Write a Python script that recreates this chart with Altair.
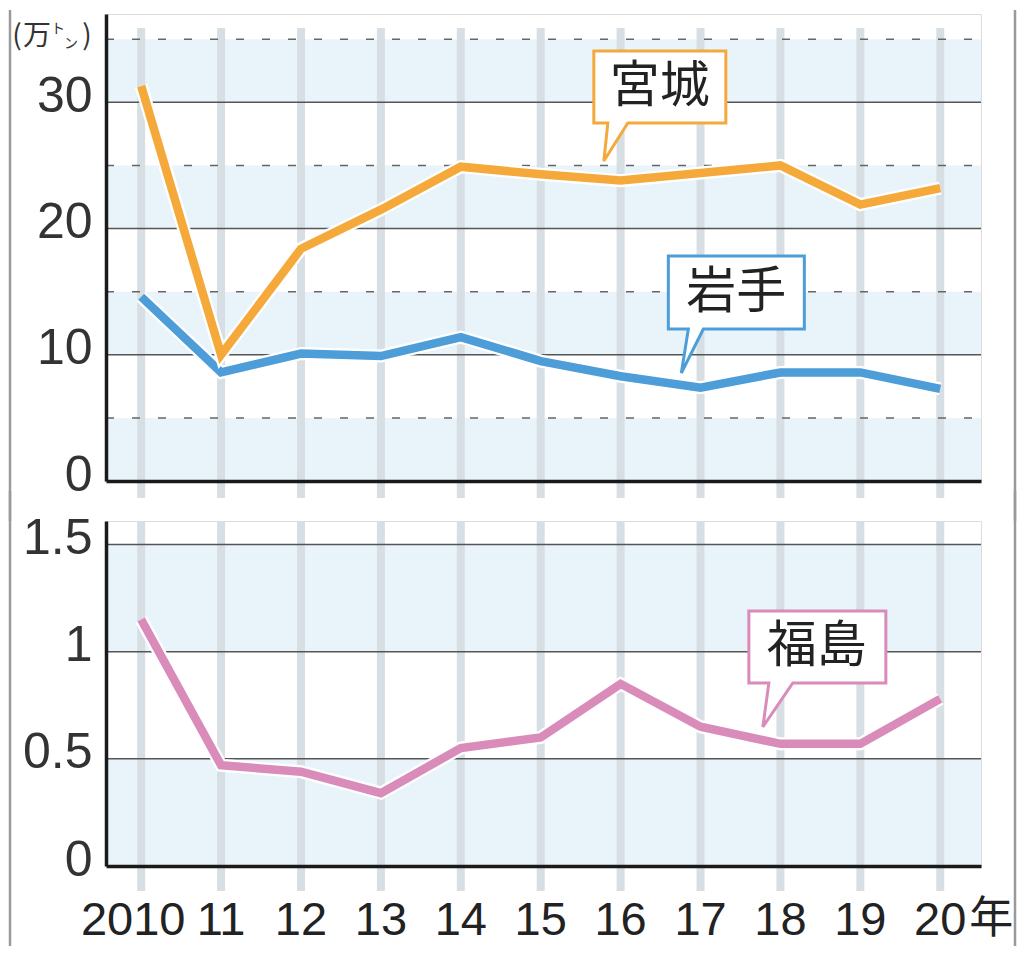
import altair as alt
import pandas as pd

# ---------------- data ----------------
years = [2010, 2011, 2012, 2013, 2014, 2015, 2016, 2017, 2018, 2019, 2020]
year_labels = ["2010", "11", "12", "13", "14", "15", "16", "17", "18", "19", "20"]
miyagi = [31.3, 10.0, 18.4, 21.5, 24.9, 24.3, 23.8, 24.4, 25.0, 21.9, 23.2]
iwate = [14.6, 8.6, 10.1, 9.9, 11.4, 9.5, 8.3, 7.4, 8.6, 8.6, 7.3]
fukushima = [1.15, 0.47, 0.44, 0.34, 0.55, 0.60, 0.85, 0.65, 0.57, 0.57, 0.78]

top_ticks = [0, 10, 20, 30]
top_solid_grid = [10, 20, 30]
top_dashed_grid = [5, 15, 25, 35]
top_band_lo = [0, 10, 20, 30]
top_band_hi = [5, 15, 25, 35]

bottom_ticks = [0, 0.5, 1, 1.5]
bottom_solid_grid = [0.5, 1, 1.5]
bottom_band_lo = [0, 1]
bottom_band_hi = [0.5, 1.5]

# ---------------- style ----------------
W, H1, H2 = 875, 467, 345
XDOM = [2009.56, 2020.51]
ORANGE, BLUE, PINK = "#F4A93A", "#4C9DD8", "#D98BBA"
BAND = "#E9F4FA"
BARC = "#D7DFE4"
CJK = "Noto Sans CJK JP"
LAT = "Liberation Sans"

x_scale = alt.Scale(domain=XDOM, nice=False, zero=False)
x_axis = alt.Axis(labels=False, ticks=False, grid=False, domainColor="#1a1a1a",
                  domainWidth=3.5, title=None, zindex=1, values=years)


def y_axis(vals):
    return alt.Axis(values=vals, ticks=False, grid=False, domainColor="#1a1a1a",
                    domainWidth=3.5, title=None, zindex=1, labelFont=LAT,
                    labelFontSize=50, labelColor="#333333", labelPadding=14,
                    labelOffset=-6, labelExpr="'' + datum.value")


one = pd.DataFrame({"k": [0]})


def pix_text(txt, x, y, size, font=CJK, color="#333333"):
    return alt.Chart(one).mark_text(text=txt, font=font, fontSize=size, color=color,
                                    align="center", baseline="middle").encode(
        x=alt.value(x), y=alt.value(y))


def border(y0, y1):
    left = alt.Chart(one).mark_rule(color="#9a9a9a", strokeWidth=2.5).encode(
        x=alt.value(-96), y=alt.value(y0), y2=alt.value(y1))
    right = alt.Chart(one).mark_rule(color="#9a9a9a", strokeWidth=2.5).encode(
        x=alt.value(909), y=alt.value(y0), y2=alt.value(y1))
    return [left, right]


def panel(H, ydom, ticks, band_lo, band_hi, solid, dashed, series, callouts,
          bar_top, bar_bottom):
    ys = alt.Scale(domain=ydom, nice=False, zero=True)
    ya = y_axis(ticks)
    X = alt.X("year:Q", scale=x_scale, axis=x_axis)

    def Y(f):
        return alt.Y(f, scale=ys, axis=ya)

    layers = []
    bands = pd.DataFrame({"lo": band_lo, "hi": band_hi})
    layers.append(alt.Chart(bands).mark_rect(color=BAND).encode(
        x=alt.value(0), x2=alt.value(W), y=Y("lo:Q"), y2="hi:Q"))
    bars = pd.DataFrame({"year": years})
    layers.append(alt.Chart(bars).mark_rule(color=BARC, strokeWidth=8).encode(
        x=X, y=alt.value(bar_top), y2=alt.value(bar_bottom)))
    if dashed:
        dg = pd.DataFrame({"v": dashed})
        layers.append(alt.Chart(dg).mark_rule(color="#666666", strokeWidth=1.5,
                                              strokeDash=[8, 18]).encode(
            y=Y("v:Q"), x=alt.value(0), x2=alt.value(W)))
    sg = pd.DataFrame({"v": solid})
    layers.append(alt.Chart(sg).mark_rule(color="#555555", strokeWidth=1.5).encode(
        y=Y("v:Q"), x=alt.value(0), x2=alt.value(W)))
    for vals, col in series:
        d = pd.DataFrame({"year": years, "value": vals})
        layers.append(alt.Chart(d).mark_line(color="white", strokeWidth=13,
                                             strokeJoin="miter", strokeCap="butt").encode(
            x=X, y=Y("value:Q")))
        layers.append(alt.Chart(d).mark_line(color=col, strokeWidth=8.5,
                                             strokeJoin="miter", strokeCap="butt").encode(
            x=X, y=Y("value:Q")))
    for name, col, ax, ay, path, tdx, tdy in callouts:
        d = pd.DataFrame({"year": [ax], "value": [ay], "label": [name]})
        layers.append(alt.Chart(d).mark_point(shape=path, size=4, filled=True,
                                              fill="white", stroke=col,
                                              strokeWidth=3, opacity=1).encode(
            x=X, y=Y("value:Q")))
        layers.append(alt.Chart(d).mark_text(dx=tdx, dy=tdy, font=CJK, fontSize=50,
                                             color="#222222", align="center",
                                             baseline="middle").encode(
            x=X, y=Y("value:Q"), text="label:N"))
    return layers, X


# ---------------- top panel ----------------
top_callouts = [
    ("宮城", ORANGE, 2015.79, 25.35,
     "M0,0 L4,-38 L-10,-38 L-10,-110 L122,-110 L122,-38 L24,-38 Z", 56, -74),
    ("岩手", BLUE, 2016.76, 8.56,
     "M0,0 L7,-44 L-13,-44 L-13,-117 L123,-117 L123,-44 L22,-44 Z", 55, -80),
]
top_layers, _ = panel(H1, [0, 37], top_ticks, top_band_lo, top_band_hi,
                      top_solid_grid, top_dashed_grid,
                      [(iwate, BLUE), (miyagi, ORANGE)], top_callouts, 14, 484)
top_layers += [
    pix_text("(", -89, 23, 28),
    pix_text("万", -69, 23, 28),
    pix_text("ト", -48, 15, 14),
    pix_text("ン", -35, 30, 14),
    pix_text(")", -19, 23, 28),
]
top_layers += border(-4, H1 + 40)
top = alt.layer(*top_layers).properties(width=W, height=H1)

# ---------------- bottom panel ----------------
bottom_callouts = [
    ("福島", PINK, 2017.78, 0.649,
     "M0,0 L6,-44 L-14,-44 L-14,-116 L123,-116 L123,-44 L30,-44 Z", 54, -80),
]
bottom_layers, XB = panel(H2, [0, 1.61], bottom_ticks, bottom_band_lo, bottom_band_hi,
                          bottom_solid_grid, [], [(fukushima, PINK)], bottom_callouts,
                          0, 370)
lab = pd.DataFrame({"year": years, "label": year_labels})
bottom_layers.append(alt.Chart(lab).transform_filter("datum.year > 2010").mark_text(
    font=LAT, fontSize=47, color="#222222", align="center", baseline="middle").encode(
    x=XB, y=alt.value(H2 + 55), text="label:N"))
bottom_layers.append(alt.Chart(lab).transform_filter("datum.year == 2010").mark_text(
    font=LAT, fontSize=47, color="#222222", align="center", baseline="middle",
    dx=-8).encode(x=XB, y=alt.value(H2 + 55), text="label:N"))
nen = pd.DataFrame({"year": [years[-1]], "label": ["年"]})
bottom_layers.append(alt.Chart(nen).mark_text(font=CJK, fontSize=44, color="#222222",
                                              align="center", baseline="middle",
                                              dx=51).encode(
    x=XB, y=alt.value(H2 + 54), text="label:N"))
bottom_layers += border(-30, 425)
bottom = alt.layer(*bottom_layers).properties(width=W, height=H2)

chart = alt.vconcat(top, bottom, spacing=40).properties(
    bounds="flush", padding=0
).configure_view(stroke=None).configure(background="white")

chart.save("out.html", embed_options={"renderer": "svg", "actions": False})
